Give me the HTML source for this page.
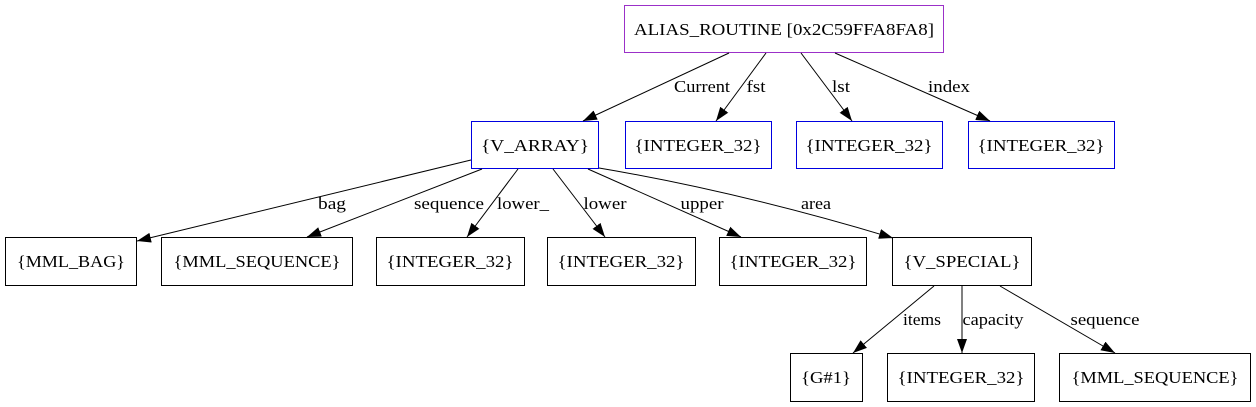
<!DOCTYPE html>
<html><head><style>html,body{margin:0;padding:0;background:#fff}svg{display:block}</style></head><body>
<svg width="1256" height="407" viewBox="0 0 1256 407" xmlns="http://www.w3.org/2000/svg">
<defs><marker id="a" markerWidth="14" markerHeight="10" refX="14" refY="5" orient="auto" markerUnits="userSpaceOnUse"><path d="M0,0 L14,5 L0,10 z" fill="#000"/></marker></defs>
<g fill="none" stroke-width="1">
<rect x="624.5" y="5.5" width="319" height="47" stroke="#9b30c8"/>
<rect x="471.5" y="121.5" width="127" height="47" stroke="#0000e0"/>
<rect x="625.5" y="121.5" width="146" height="47" stroke="#0000e0"/>
<rect x="796.5" y="121.5" width="146" height="47" stroke="#0000e0"/>
<rect x="968.5" y="121.5" width="146" height="47" stroke="#0000e0"/>
<g stroke="#000">
<rect x="5.5" y="237.5" width="131" height="48"/>
<rect x="161.5" y="237.5" width="191" height="48"/>
<rect x="376.5" y="237.5" width="148" height="48"/>
<rect x="547.5" y="237.5" width="148" height="48"/>
<rect x="719.5" y="237.5" width="147" height="48"/>
<rect x="892.5" y="237.5" width="139" height="48"/>
<rect x="790.5" y="353.5" width="72" height="48"/>
<rect x="887.5" y="353.5" width="147" height="48"/>
<rect x="1059.5" y="353.5" width="191" height="48"/>
<line x1="729" y1="53" x2="583" y2="121" marker-end="url(#a)"/>
<line x1="766" y1="53" x2="716" y2="121" marker-end="url(#a)"/>
<line x1="801" y1="53" x2="852" y2="121" marker-end="url(#a)"/>
<line x1="835" y1="53" x2="990" y2="121" marker-end="url(#a)"/>
<line x1="471" y1="160" x2="137" y2="241" marker-end="url(#a)"/>
<line x1="482" y1="169" x2="307" y2="237" marker-end="url(#a)"/>
<line x1="518" y1="169" x2="467" y2="237" marker-end="url(#a)"/>
<line x1="553" y1="169" x2="605" y2="237" marker-end="url(#a)"/>
<line x1="588" y1="169" x2="741" y2="237" marker-end="url(#a)"/>
<path d="M599,168 C700,185 800,210 893,238" marker-end="url(#a)"/>
<line x1="934" y1="286" x2="853" y2="353" marker-end="url(#a)"/>
<line x1="962" y1="286" x2="962" y2="353" marker-end="url(#a)"/>
<line x1="1000" y1="286" x2="1115" y2="353" marker-end="url(#a)"/>
</g></g>
<g text-anchor="middle" font-family="'Liberation Serif','Times New Roman','DejaVu Serif',serif" font-size="17" fill="#000">
<text x="784" y="35" textLength="300" lengthAdjust="spacingAndGlyphs">ALIAS_ROUTINE [0x2C59FFA8FA8]</text>
<text x="535" y="151" textLength="108" lengthAdjust="spacingAndGlyphs">{V_ARRAY}</text>
<text x="698" y="151" textLength="127" lengthAdjust="spacingAndGlyphs">{INTEGER_32}</text>
<text x="869" y="151" textLength="127" lengthAdjust="spacingAndGlyphs">{INTEGER_32}</text>
<text x="1041" y="151" textLength="127" lengthAdjust="spacingAndGlyphs">{INTEGER_32}</text>
<text x="71" y="267" textLength="108" lengthAdjust="spacingAndGlyphs">{MML_BAG}</text>
<text x="257" y="267" textLength="167" lengthAdjust="spacingAndGlyphs">{MML_SEQUENCE}</text>
<text x="450" y="267" textLength="127" lengthAdjust="spacingAndGlyphs">{INTEGER_32}</text>
<text x="621" y="267" textLength="127" lengthAdjust="spacingAndGlyphs">{INTEGER_32}</text>
<text x="793" y="267" textLength="127" lengthAdjust="spacingAndGlyphs">{INTEGER_32}</text>
<text x="962" y="267" textLength="117" lengthAdjust="spacingAndGlyphs">{V_SPECIAL}</text>
<text x="826" y="383" textLength="50" lengthAdjust="spacingAndGlyphs">{G#1}</text>
<text x="961" y="383" textLength="127" lengthAdjust="spacingAndGlyphs">{INTEGER_32}</text>
<text x="1155" y="383" textLength="167" lengthAdjust="spacingAndGlyphs">{MML_SEQUENCE}</text>
<text x="702" y="92" textLength="56" lengthAdjust="spacingAndGlyphs">Current</text>
<text x="756" y="92" textLength="19" lengthAdjust="spacingAndGlyphs">fst</text>
<text x="841" y="92" textLength="18" lengthAdjust="spacingAndGlyphs">lst</text>
<text x="949" y="92" textLength="42" lengthAdjust="spacingAndGlyphs">index</text>
<text x="332" y="209" textLength="28" lengthAdjust="spacingAndGlyphs">bag</text>
<text x="449" y="209" textLength="70" lengthAdjust="spacingAndGlyphs">sequence</text>
<text x="497" y="209" textLength="52" lengthAdjust="spacingAndGlyphs" text-anchor="start">lower_</text>
<text x="605" y="209" textLength="43" lengthAdjust="spacingAndGlyphs">lower</text>
<text x="702" y="209" textLength="43" lengthAdjust="spacingAndGlyphs">upper</text>
<text x="816" y="209" textLength="30" lengthAdjust="spacingAndGlyphs">area</text>
<text x="922" y="325" textLength="38" lengthAdjust="spacingAndGlyphs">items</text>
<text x="993" y="325" textLength="61" lengthAdjust="spacingAndGlyphs">capacity</text>
<text x="1105" y="325" textLength="69" lengthAdjust="spacingAndGlyphs">sequence</text>
</g>
</svg>
</body></html>
